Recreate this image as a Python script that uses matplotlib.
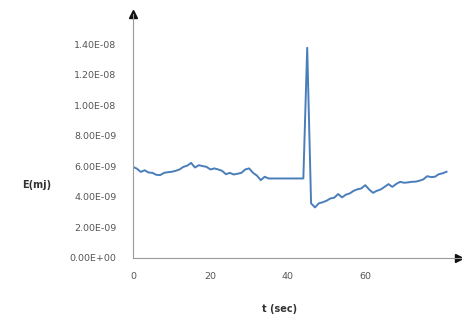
import numpy as np
import matplotlib.pyplot as plt
from matplotlib.ticker import FuncFormatter

# values (t in seconds, E in 1e-9 mJ)
t = [0, 1, 2, 3, 4, 5, 6, 7, 8, 9, 10, 11, 12, 13, 14, 15, 16, 17, 18, 19,
     20, 21, 22, 23, 24, 25, 26, 27, 28, 29, 30, 31, 32, 33, 34, 35, 36,
     38, 40, 42, 44, 45, 46, 47, 48, 49, 50, 51, 52, 53, 54, 55, 56, 57,
     58, 59, 60, 61, 62, 63, 64, 65, 66, 67, 68, 69, 70, 71, 72, 73, 74,
     75, 76, 77, 78, 79, 80, 81]
e = [5.97, 5.85, 5.64, 5.75, 5.60, 5.58, 5.45, 5.43, 5.58, 5.62, 5.65, 5.71,
     5.80, 5.97, 6.05, 6.23, 5.93, 6.08, 6.02, 5.97, 5.80, 5.87, 5.80, 5.71,
     5.49, 5.58, 5.47, 5.52, 5.58, 5.80, 5.87, 5.58, 5.40, 5.10, 5.32, 5.21,
     5.21, 5.21, 5.21, 5.21, 5.21, 13.78, 3.58, 3.31, 3.58, 3.65, 3.75,
     3.90, 3.95, 4.19, 3.97, 4.15, 4.23, 4.40, 4.50, 4.56, 4.77, 4.49,
     4.27, 4.40, 4.49, 4.66, 4.84, 4.66, 4.85, 4.99, 4.93, 4.95, 4.99,
     5.00, 5.06, 5.15, 5.36, 5.30, 5.32, 5.49, 5.55, 5.65]
x_ticks = [0, 20, 40, 60]
y_ticks = [0, 2e-9, 4e-9, 6e-9, 8e-9, 1e-8, 1.2e-8, 1.4e-8]

t = np.array(t)
e = np.array(e) * 1e-9

fig = plt.figure(figsize=(4.62, 3.2), dpi=100)
ax = fig.add_axes([0.288, 0.194, 0.712, 0.7625])

ax.plot(t, e, color='#4a7ebb', lw=1.4)

ax.set_xlim(0, 85)
ax.set_ylim(0, 1.6e-8)
ax.set_xticks(x_ticks)
ax.set_yticks(y_ticks)
ax.yaxis.set_major_formatter(FuncFormatter(lambda v, p: ("%.2E" % v)))
ax.tick_params(length=0, labelsize=6.8, colors='#555555')
ax.tick_params(axis='y', pad=12)
ax.tick_params(axis='x', pad=10)

for s in ['top', 'right']:
    ax.spines[s].set_visible(False)
for s in ['left', 'bottom']:
    ax.spines[s].set_color('#9a9a9a')
    ax.spines[s].set_linewidth(0.8)

# arrow heads on the axes
ax.plot(0.99, 0, '>', color='#111111', ms=6, transform=ax.get_yaxis_transform(), clip_on=False)
ax.plot(0, 1, '^', color='#111111', ms=6, transform=ax.get_xaxis_transform(), clip_on=False)

fig.text(0.048, 0.422, 'E(mj)', fontsize=7, fontweight='bold', color='#333333', va='center')
fig.text(0.605, 0.035, 't (sec)', fontsize=7, fontweight='bold', color='#333333', ha='center', va='center')

fig.savefig('out.png', dpi=100)
